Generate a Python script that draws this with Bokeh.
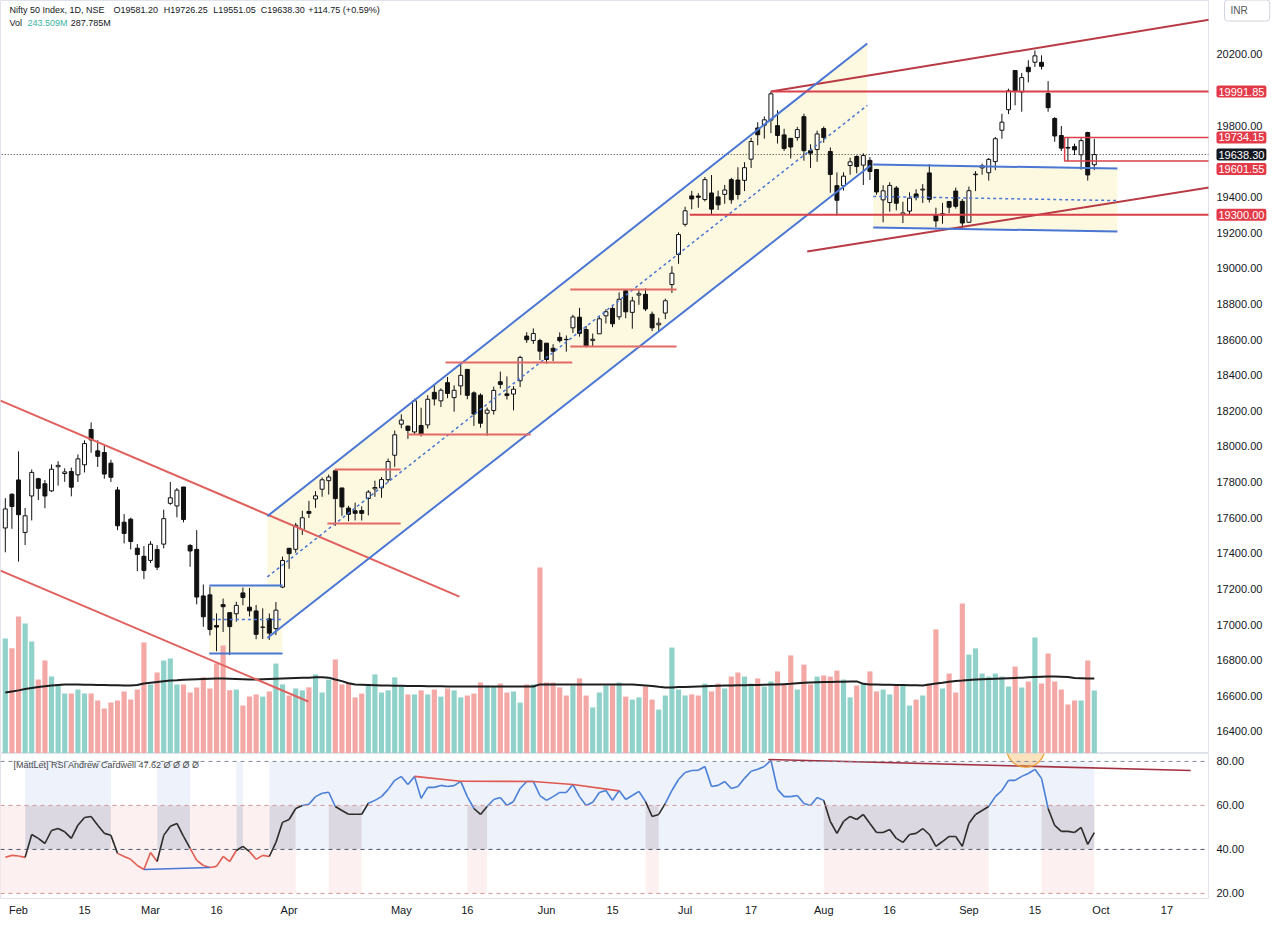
import numpy as np
from bokeh.plotting import figure
from bokeh.models import Range1d, FixedTicker, NumeralTickFormatter, Label, Span
from bokeh.layouts import column
from bokeh.embed import file_html
from bokeh.resources import INLINE

# ---------------- data (bar index: Feb 1 2023 = 0, first bar Jan 30 = -2) ----------------
first_bar = -2
opens = [17541.95, 17731.45, 17811.6, 17517.1, 17721.75, 17818.55, 17790.1, 17750.3, 17885.5, 17847.55,
         17859.1, 17840.35, 17896.6, 18094.75, 17974.85, 17965.55, 17905.8, 17755.35, 17574.65, 17591.35,
         17428.6, 17383.25, 17360.1, 17421.5, 17451.25, 17680.35, 17665.75, 17772.05, 17443.8, 17421.9,
         17160.55, 17166.45, 16994.65, 17111.8, 17066.6, 17060.4, 17177.45, 17097.4, 17076.2, 16984.3,
         17031.75, 16977.3, 17210.35, 17427.95, 17422.3, 17533.85, 17634.9, 17704.8, 17759.6, 17807.3,
         17863.0, 17766.6, 17653.35, 17638.6, 17639.75, 17707.55, 17761.55, 17767.3, 17813.1, 17950.4,
         18124.8, 18113.8, 18081.0, 18117.3, 18120.6, 18303.4, 18255.65, 18357.8, 18273.75, 18339.3,
         18432.35, 18300.45, 18287.5, 18186.15, 18201.1, 18362.9, 18294.8, 18293.7, 18368.35, 18619.15,
         18594.2, 18594.2, 18579.4, 18550.85, 18612.0, 18600.8, 18665.6, 18725.35, 18655.9, 18595.05,
         18631.8, 18732.85, 18774.45, 18727.3, 18873.3, 18752.35, 18849.4, 18853.6, 18741.85, 18682.35,
         18748.55, 18908.15, 19076.85, 19246.5, 19406.2, 19405.15, 19385.7, 19422.55, 19400.35, 19414.75,
         19497.45, 19495.2, 19493.45, 19612.15, 19787.5, 19802.95, 19831.4, 19800.45, 19748.45, 19729.35,
         19733.35, 19850.9, 19659.75, 19666.35, 19784.0, 19655.4, 19463.75, 19462.8, 19576.85, 19627.2,
         19578.8, 19605.55, 19554.25, 19383.95, 19369.0, 19450.55, 19301.75, 19320.65, 19417.1, 19439.2,
         19535.15, 19297.4, 19298.35, 19374.85, 19433.45, 19375.55, 19258.15, 19525.05, 19563.4, 19536.2,
         19598.65, 19774.8, 19890.0, 20110.15, 19989.5, 20127.95, 20156.45, 20155.95, 19980.75, 19840.55,
         19744.85, 19678.2, 19682.8, 19637.05, 19761.8, 19581.2]
highs = [17709.15, 17735.7, 17972.2, 17653.9, 17870.3, 17823.7, 17811.15, 17898.7, 17916.9, 17876.95,
         17880.7, 17954.55, 18034.1, 18134.75, 18034.25, 18004.35, 17924.9, 17772.5, 17620.05, 17599.75,
         17451.6, 17440.45, 17467.75, 17445.8, 17644.75, 17799.95, 17766.5, 17772.35, 17451.5, 17529.9,
         17224.65, 17211.35, 17062.45, 17145.8, 17066.6, 17127.7, 17207.25, 17205.4, 17109.45, 17091.0,
         17061.75, 17126.15, 17381.6, 17428.05, 17570.55, 17638.7, 17694.1, 17748.75, 17825.75, 17842.15,
         17863.0, 17766.6, 17666.15, 17684.45, 17663.2, 17754.5, 17807.45, 17827.75, 17931.6, 18089.15,
         18180.25, 18116.35, 18267.45, 18216.95, 18286.95, 18344.2, 18326.0, 18389.7, 18342.75, 18458.9,
         18432.35, 18309.0, 18297.2, 18218.1, 18335.25, 18419.75, 18392.6, 18338.1, 18508.55, 18641.2,
         18662.45, 18603.9, 18580.3, 18573.7, 18640.15, 18622.75, 18738.95, 18777.9, 18676.65, 18633.6,
         18728.9, 18769.7, 18794.1, 18864.7, 18881.45, 18839.7, 18875.9, 18886.6, 18756.4, 18722.05,
         18829.25, 19011.25, 19201.7, 19345.1, 19434.15, 19421.6, 19512.2, 19523.6, 19435.85, 19467.9,
         19507.7, 19567.0, 19595.35, 19731.85, 19819.45, 19851.7, 19991.85, 19887.4, 19782.8, 19729.35,
         19793.6, 19867.55, 19695.9, 19772.75, 19795.6, 19678.25, 19537.65, 19538.85, 19620.45, 19634.4,
         19645.5, 19623.6, 19557.75, 19465.85, 19482.75, 19461.55, 19373.0, 19425.95, 19443.5, 19472.05,
         19584.45, 19339.55, 19366.85, 19377.9, 19452.8, 19388.2, 19458.55, 19545.15, 19587.05, 19619.15,
         19737.0, 19867.15, 20008.15, 20110.35, 20096.25, 20167.65, 20222.45, 20195.35, 20050.35, 19848.75,
         19798.65, 19734.15, 19699.35, 19730.7, 19766.65, 19726.25]
lows = [17405.55, 17537.55, 17353.4, 17445.95, 17584.2, 17698.35, 17652.55, 17744.15, 17779.8, 17801.0,
        17719.75, 17800.05, 17853.8, 17964.4, 17884.6, 17818.4, 17800.3, 17529.45, 17455.4, 17421.8,
        17299.0, 17255.2, 17345.25, 17306.0, 17427.7, 17671.95, 17602.25, 17573.6, 17324.35, 17113.45,
        16987.1, 16938.9, 16850.15, 16958.15, 16828.35, 17016.0, 17107.85, 17045.3, 16917.35, 16918.55,
        16913.75, 16940.6, 17204.65, 17312.75, 17402.7, 17502.85, 17597.95, 17655.15, 17717.25, 17729.65,
        17553.95, 17610.2, 17579.85, 17584.35, 17584.0, 17612.5, 17716.85, 17711.2, 17797.9, 17885.3,
        18101.75, 18042.4, 18066.7, 18055.45, 18100.3, 18229.65, 18220.85, 18270.4, 18194.55, 18287.9,
        18264.35, 18115.35, 18104.85, 18060.4, 18178.85, 18324.2, 18262.95, 18202.4, 18333.15, 18581.25,
        18575.5, 18483.85, 18464.55, 18478.4, 18582.8, 18531.6, 18636.65, 18615.6, 18555.4, 18559.75,
        18631.8, 18690.0, 18669.05, 18710.5, 18719.15, 18660.65, 18794.85, 18759.5, 18647.1, 18646.7,
        18714.25, 18861.35, 19024.6, 19234.4, 19331.1, 19339.6, 19375.0, 19303.6, 19327.1, 19361.75,
        19361.75, 19385.8, 19433.0, 19562.95, 19690.2, 19727.45, 19758.4, 19700.0, 19658.3, 19615.95,
        19716.05, 19603.55, 19563.1, 19597.6, 19704.6, 19423.55, 19296.45, 19436.45, 19524.8, 19533.1,
        19467.5, 19495.4, 19412.75, 19257.9, 19317.2, 19325.55, 19253.6, 19302.5, 19381.3, 19366.6,
        19369.0, 19229.7, 19249.7, 19309.1, 19334.75, 19223.65, 19255.7, 19432.85, 19525.15, 19491.75,
        19550.05, 19727.05, 19865.35, 19914.65, 19878.85, 20043.45, 20129.7, 20115.7, 19878.35, 19709.95,
        19657.5, 19601.55, 19635.3, 19554.0, 19492.1, 19551.05]
closes = [17648.95, 17662.15, 17616.3, 17610.4, 17854.05, 17764.6, 17721.5, 17871.7, 17893.45, 17856.5,
          17770.9, 17929.85, 18015.85, 18035.85, 17944.2, 17844.6, 17826.7, 17554.3, 17511.25, 17465.8,
          17392.7, 17303.95, 17450.9, 17321.9, 17594.35, 17711.45, 17754.4, 17589.6, 17412.9, 17154.3,
          17043.3, 16972.15, 16985.6, 17100.05, 16988.4, 17107.5, 17151.9, 17076.9, 16945.05, 16985.7,
          16951.7, 17080.7, 17359.75, 17398.05, 17557.05, 17599.15, 17624.05, 17722.3, 17812.4, 17828.0,
          17706.85, 17660.15, 17618.75, 17624.45, 17624.05, 17743.4, 17769.25, 17813.6, 17915.05, 18065.0,
          18147.65, 18089.85, 18255.8, 18069.0, 18264.4, 18265.95, 18315.1, 18297.0, 18314.8, 18398.85,
          18286.5, 18181.75, 18129.95, 18203.4, 18314.4, 18348.0, 18285.4, 18321.15, 18499.35, 18598.65,
          18633.85, 18534.4, 18487.75, 18534.1, 18593.85, 18599.0, 18726.4, 18634.55, 18563.4, 18601.5,
          18716.15, 18755.9, 18688.1, 18826.0, 18755.45, 18816.7, 18856.85, 18771.25, 18665.5, 18691.2,
          18817.4, 18972.1, 19189.05, 19322.55, 19389.0, 19398.5, 19497.3, 19331.8, 19355.9, 19439.4,
          19384.3, 19413.75, 19564.5, 19711.45, 19749.25, 19833.15, 19979.15, 19745.0, 19672.35, 19680.6,
          19778.3, 19659.9, 19646.05, 19753.8, 19733.55, 19526.55, 19381.65, 19517.0, 19597.3, 19570.85,
          19632.55, 19543.1, 19428.3, 19434.55, 19465.0, 19365.25, 19310.15, 19393.6, 19396.45, 19444.0,
          19386.7, 19265.8, 19306.05, 19342.65, 19347.45, 19253.8, 19435.3, 19528.8, 19574.9, 19611.05,
          19727.05, 19819.95, 19996.35, 19993.2, 20070.0, 20103.1, 20192.35, 20133.3, 19901.4, 19742.35,
          19674.25, 19674.55, 19664.7, 19716.45, 19523.55, 19638.3]
volumes_m = [435, 399, 517, 491, 424, 284, 354, 295, 266, 232,
             232, 247, 232, 232, 207, 177, 199, 207, 240, 210,
             247, 421, 266, 310, 354, 362, 266, 266, 236, 255,
             292, 251, 343, 410, 244, 247, 188, 221, 229, 221,
             240, 343, 266, 225, 251, 244, 255, 303, 236, 284,
             358, 266, 273, 218, 232, 262, 303, 236, 244, 292,
             262, 229, 229, 244, 229, 247, 221, 251, 244, 218,
             225, 232, 273, 262, 258, 269, 236, 240, 199, 266,
             266, 697, 273, 273, 255, 225, 262, 288, 225, 181,
             236, 262, 262,
             273, 221, 210, 218, 258, 210, 173, 225, 402, 247,
             225, 229, 225, 269, 240, 269, 251, 295, 310, 295,
             269, 288, 258, 277, 314, 266, 373, 247, 339, 266,
             295, 299, 295, 317, 284, 218, 262, 269, 314, 240,
             247, 229, 266, 266, 188, 210, 225, 269, 469, 251,
             306, 236, 565, 376, 399, 306, 295, 306, 295, 258,
             332, 255, 277, 439, 269, 380, 277, 247, 192, 207,
             207, 354, 243.5]
volume_ma_m = [236, 240, 244, 249, 253, 256, 259, 262, 264, 266, 266, 266,
               265, 265, 264, 264, 263, 263, 262, 262, 264, 269,
               272, 275, 278, 280, 281, 283, 284, 285, 286, 287,
               288, 288, 287, 286, 285, 284, 284, 285, 286, 287,
               288, 289, 290, 291, 291, 292, 292, 291, 284, 278,
               270, 266, 265, 264, 263, 262, 262, 261, 261, 260,
               260, 260, 259, 259, 259, 258, 258, 258, 258, 258,
               258, 258, 258, 258, 258, 258, 258, 258, 258, 266,
               266, 266, 266, 266, 266, 266, 266, 266, 266, 266,
               266, 266, 266, 266, 264, 262, 260, 257, 255, 255,
               256, 256, 257, 258, 259, 260, 261, 262, 262, 263,
               263, 264, 264, 265, 266, 266, 267, 268, 270, 272,
               273, 274, 275, 275, 276, 276, 277, 277, 268, 266,
               266, 265, 265, 264, 264, 263, 263, 262, 266, 269,
               272, 276, 279, 280, 282, 284, 285, 286, 287, 288,
               289, 290, 291, 292, 293, 294, 295, 295, 294, 293,
               290, 289, 288, 287.785]
rsi = [36.4, 37.3, 37, 36.4, 46.8, 45, 42.7, 48.6, 49.5, 48, 45, 51, 54.5, 55, 51, 47.3, 46.4, 38.2, 36.8, 35.5,
       32.7, 30.9, 38.6, 34.5, 46.4, 50.5, 51.8, 45.9, 40.5, 35, 32.7, 31.8, 32.3, 36.8, 34.5, 39.5, 41.4, 39,
       35.5, 37.3, 36.8, 43.2, 52.3, 53.6, 58.6, 60, 60.5, 64, 65.5, 66, 59.5, 57.7, 56, 56, 56, 61, 62.3, 64,
       67.3, 71.4,
       73.2, 69.5, 73.2, 63.2, 68.2, 68.2, 69.1, 68.6, 69, 70.9, 64, 58.6, 55.9, 59.5, 62.7, 63.6, 60, 61.8,
       67.7, 70.9, 70.9, 64.5, 62.3, 64, 65.9, 65.9, 69.5, 64, 60, 61.4, 65.9, 66.8, 62.3, 66.8, 62.7, 64.5,
       66.4, 61.8, 55, 55.9, 60.9, 66.8, 71.8, 75, 75.9, 76, 77.7, 68.6, 69.1, 70.9, 67.7, 68.6, 72.3, 75.5,
       76.4, 77.7, 80.5, 67.3, 64, 64,
       64.5, 60.9, 60, 63.6, 62.3, 52.7, 47.3, 52.7, 55, 53.6, 55.9, 51.8, 47.7, 47.7, 49.1, 45, 43.2, 46.8,
       47.3, 49.5, 46.8, 41.4, 43.6, 45.9, 45.9, 41.4, 51.8, 55.9, 57.7, 59.5, 64, 66.8, 71.4, 71.4, 73.2,
       74.5, 76.4, 72.3, 58.6, 50.9, 48.2, 48.2, 47.7, 50, 42.3, 47.62]

tick_positions = [0, 10, 20, 30, 41, 58, 68, 80, 90, 101, 111, 122, 132, 144, 154, 164, 174]
tick_labels = ["Feb", "15", "Mar", "16", "Apr", "May", "16", "Jun", "15", "Jul", "17", "Aug", "16",
               "Sep", "15", "Oct", "17"]
price_ticks = [16400, 16600, 16800, 17000, 17200, 17400, 17600, 17800, 18000, 18200, 18400, 18600,
               18800, 19000, 19200, 19400, 19800, 20200]
rsi_ticks = [20, 40, 60, 80]

# drawn annotations: (bar index, price) anchors
red_desc_lines = [((-2.73, 18257), (66.8, 17157)), ((-2.73, 17303), (43.9, 16568))]
red_rise_lines = [((114, 19991.85), (180.6, 20396)), ((119.5, 19094), (181.4, 19459))]
channel_upper = ((37.7, 17608), (128.6, 20262))
channel_lower = ((37.7, 16924), (129.1, 19577))
channel_mid = ((37.7, 17267), (128.6, 19914))
box_left = (28.9, 40.0, 17219, 17028, 16837)           # x0, x1, top, mid, bottom
box_right = (129.5, 166.5, (19582, 19560), (19403, 19380), (19229, 19206))
sr_levels = [(46.8, 57.9, 17567), (47.9, 57.9, 17870), (58.9, 77.6, 18067), (64.7, 83.9, 18471),
             (83.6, 99.7, 18561), (83.6, 99.7, 18881)]
key_levels = [(114, 181, 19991.85), (101.7, 181, 19300.0)]
sep_rect = (158.5, 181, 19601.55, 19734.15)
last_close = 19638.30
price_tags = [19991.85, 19734.15, 19638.30, 19601.55, 19300.00]
rsi_support = ((19, 30.9), (29, 31.8))
rsi_peaks_x = [60, 67, 78, 84, 91]
rsi_peaks_y = [73.2, 71.0, 70.9, 69.5, 66.6]
rsi_div_line = ((113.6, 80.9), (177.6, 75.9))

# ---------------- styling ----------------
FONT = "Liberation Sans"
TXT = "#131722"
RED_TAG = "#e23a48"
BLUE = "#4a76d4"
RED_L = "#e0605e"
RED_D = "#b83a45"
RED_H = "#d9404a"
YELLOW = "#fdf9e1"
UP_VOL = "#90d2c9"
DN_VOL = "#f4a8a6"

idx = np.arange(first_bar, first_bar + len(closes))
o = np.array(opens); c = np.array(closes)
h = np.maximum(np.array(highs), np.maximum(o, c))
l = np.minimum(np.array(lows), np.minimum(o, c))
up = c >= o

p = figure(frame_width=1208, frame_height=753, x_range=Range1d(-2.73, 180.3),
           y_range=Range1d(16276, 20503), x_axis_location=None, y_axis_location="right",
           output_backend="svg", toolbar_location=None, min_border_left=0, min_border_top=0,
           min_border_bottom=0, min_border_right=58, outline_line_color="#e0e3eb",
           background_fill_color="white", border_fill_color="white")
p.xgrid.grid_line_color = None
p.ygrid.grid_line_color = None
p.yaxis.ticker = FixedTicker(ticks=price_ticks)
p.yaxis.formatter = NumeralTickFormatter(format="0.00")
p.yaxis.axis_line_color = None
p.yaxis.major_tick_line_color = None
p.yaxis.minor_tick_line_color = None
p.yaxis.major_tick_out = 0
p.yaxis.major_tick_in = 0
p.yaxis.major_label_standoff = 8
p.yaxis.major_label_text_font = FONT
p.yaxis.major_label_text_font_size = "11px"
p.yaxis.major_label_text_color = TXT

# yellow fills
p.patch([channel_upper[0][0], channel_upper[1][0], channel_upper[1][0], channel_lower[0][0]],
        [channel_upper[0][1], channel_upper[1][1], 19560, channel_lower[0][1]],
        fill_color=YELLOW, line_color=None)
p.patch([box_left[0], box_left[1], box_left[1], box_left[0]],
        [box_left[2], box_left[2], box_left[4], box_left[4]], fill_color=YELLOW, line_color=None)
p.patch([box_right[0], box_right[1], box_right[1], box_right[0]],
        [box_right[2][0], box_right[2][1], box_right[4][1], box_right[4][0]],
        fill_color=YELLOW, line_color=None)

# volume overlay
p.extra_y_ranges = {"vol": Range1d(11, 2790)}
p.vbar(x=idx, top=volumes_m, bottom=0, width=0.78, y_range_name="vol",
       fill_color=np.where(up, UP_VOL, DN_VOL).tolist(), line_color=None)
p.line(idx, volume_ma_m, y_range_name="vol", line_color="#1e1e1e", line_width=2)

# last price dotted line
p.line([-3, 181], [last_close, last_close], line_color="#333333", line_dash="1 2", line_width=1)

# candles
p.segment(x0=idx, y0=l, x1=idx, y1=h, line_color="#111111", line_width=1)
p.vbar(x=idx, top=np.maximum(o, c), bottom=np.minimum(o, c), width=0.6,
       fill_color=np.where(up, "white", "#111111").tolist(), line_color="#111111", line_width=1)

# trend lines / drawings
for (a, b) in red_desc_lines:
    p.line([a[0], b[0]], [a[1], b[1]], line_color=RED_L, line_width=2)
for (a, b) in red_rise_lines:
    p.line([a[0], b[0]], [a[1], b[1]], line_color=RED_D, line_width=2)
for (a, b) in (channel_upper, channel_lower):
    p.line([a[0], b[0]], [a[1], b[1]], line_color=BLUE, line_width=2)
p.line([channel_mid[0][0], channel_mid[1][0]], [channel_mid[0][1], channel_mid[1][1]],
       line_color=BLUE, line_width=1.5, line_dash="3 3")
p.line([box_left[0], box_left[1]], [box_left[2], box_left[2]], line_color=BLUE, line_width=2)
p.line([box_left[0], box_left[1]], [box_left[4], box_left[4]], line_color=BLUE, line_width=2)
p.line([box_left[0] + 0.4, box_left[1]], [box_left[3], box_left[3]], line_color=BLUE,
       line_width=1.5, line_dash="3 3")
p.line([box_right[0], box_right[1]], list(box_right[2]), line_color=BLUE, line_width=2)
p.line([box_right[0], box_right[1]], list(box_right[4]), line_color=BLUE, line_width=2)
p.line([box_right[0], box_right[1]], list(box_right[3]), line_color=BLUE, line_width=1.5, line_dash="3 3")
for (x0, x1, y) in sr_levels:
    p.line([x0, x1], [y, y], line_color="#e36a66", line_width=2)
for (x0, x1, y) in key_levels:
    p.line([x0, x1], [y, y], line_color=RED_H, line_width=2)
rx0, rx1, ry0, ry1 = sep_rect
p.line([rx1, rx0, rx0, rx1], [ry1, ry1, ry0, ry0], line_color=RED_H, line_width=1.5)

# header texts
def lab(fig, x, y, text, color=TXT, size="9px", **kw):
    fig.add_layout(Label(x=x, y=y, text=text, text_color=color, text_font=FONT, text_font_size=size,
                         text_baseline="middle", text_align="left", **kw))

lab(p, -1.37, 20452, "Nifty 50 Index, 1D, NSE")
lab(p, 14.4, 20452, "O19581.20")
lab(p, 22.0, 20452, "H19726.25")
lab(p, 29.5, 20452, "L19551.05")
lab(p, 36.7, 20452, "C19638.30")
lab(p, 43.9, 20452, "+114.75 (+0.59%)")
lab(p, -1.37, 20374, "Vol")
lab(p, 1.36, 20374, "243.509M", color="#3bb3a6")
lab(p, 7.9, 20374, "287.785M")

# price tags on the scale (placed in the right side panel so they are not clipped to the frame)
tag_colors = [RED_TAG, RED_TAG, "#131722", RED_TAG, RED_TAG]
tag_offsets = [0, 0, 0, -8, 0]
for val, col, off in zip(price_tags, tag_colors, tag_offsets):
    p.add_layout(Label(x=181.51, y=val, y_offset=off, text=f"{val:.2f}", text_color="white",
                       text_font=FONT, text_font_size="11px", text_baseline="middle",
                       text_align="left", background_fill_color=col, padding=2, border_radius=2),
                 "right")
p.add_layout(Label(x=182.72, y=20447, text="INR", text_color="#555555", text_font=FONT,
                   text_font_size="10px", text_baseline="middle", text_align="left",
                   background_fill_color="white", border_line_color="#d1d4dc",
                   padding=dict(left=6, right=22, top=5, bottom=5), border_radius=3), "right")

# ---------------- RSI pane ----------------
q = figure(frame_width=1208, frame_height=145, x_range=p.x_range, y_range=Range1d(17.7, 83.6),
           y_axis_location="right", output_backend="svg", toolbar_location=None,
           min_border_left=0, min_border_top=0, min_border_bottom=0, min_border_right=58,
           outline_line_color="#e0e3eb", background_fill_color="white", border_fill_color="white")
q.xgrid.grid_line_color = None
q.ygrid.grid_line_color = None
q.yaxis.ticker = FixedTicker(ticks=rsi_ticks)
q.yaxis.formatter = NumeralTickFormatter(format="0.00")
for ax in (q.yaxis, q.xaxis):
    ax.axis_line_color = None
    ax.major_tick_line_color = None
    ax.minor_tick_line_color = None
    ax.major_tick_out = 0
    ax.major_tick_in = 0
    ax.major_label_text_font = FONT
    ax.major_label_text_font_size = "11px"
    ax.major_label_text_color = TXT
q.yaxis.major_label_standoff = 8
q.xaxis.major_label_standoff = 5
q.xaxis.ticker = FixedTicker(ticks=tick_positions)
q.xaxis.major_label_overrides = {t: s for t, s in zip(tick_positions, tick_labels)}

r = np.array(rsi)
bull = r > 40
bear = r < 60

def runs(mask):
    out, start = [], None
    for i, m in enumerate(mask):
        if m and start is None:
            start = i
        if (not m) and start is not None:
            out.append((start, i - 1)); start = None
    if start is not None:
        out.append((start, len(mask) - 1))
    return out

def band(mask, lo, hi, color):
    rr = runs(mask)
    if rr:
        q.quad(left=[idx[a] - 1 for a, b in rr], right=[idx[b] for a, b in rr],
               bottom=lo, top=hi, fill_color=color, line_color=None)

band(bull, 60, 80, "#edf2fb")
band(bull & ~bear, 40, 60, "#edf2fb")
band(bull & bear, 40, 60, "#dcd8e1")
band(bear & ~bull, 40, 60, "#fdf0f0")
band(bear, 20, 40, "#fdf0f0")

for lvl, col in ((80, "#7f8595"), (60, "#d79494"), (40, "#4a5568"), (20, "#d79494")):
    q.add_layout(Span(location=lvl, dimension="width", line_color=col, line_dash="4 4", line_width=1))

mid = (r[:-1] + r[1:]) / 2
seg_col = np.where(mid > 60, "#4a7fd6", np.where(mid >= 40, "#2b2b2b", "#e35d52")).tolist()
q.segment(x0=idx[:-1], y0=r[:-1], x1=idx[1:], y1=r[1:], line_color=seg_col, line_width=1.6)

q.line([rsi_support[0][0], rsi_support[1][0]], [rsi_support[0][1], rsi_support[1][1]],
       line_color=BLUE, line_width=1.6)
q.line(rsi_peaks_x, rsi_peaks_y, line_color="#e0584f", line_width=1.6)
q.line([rsi_div_line[0][0], rsi_div_line[1][0]], [rsi_div_line[0][1], rsi_div_line[1][1]],
       line_color="#a33040", line_width=1.6)
q.ellipse(x=152.6, y=86, width=5.8, height=17.3, fill_color="#f5b041", fill_alpha=0.35,
          line_color="#f0a030", line_width=1.2)

lab(q, -0.76, 78.6, "[MattLet] RSI Andrew Cardwell  47.62  Ø  Ø  Ø  Ø", color="#4a4a4a")

layout = column(p, q, spacing=0)
open("out.html", "w").write(file_html(layout, INLINE))
